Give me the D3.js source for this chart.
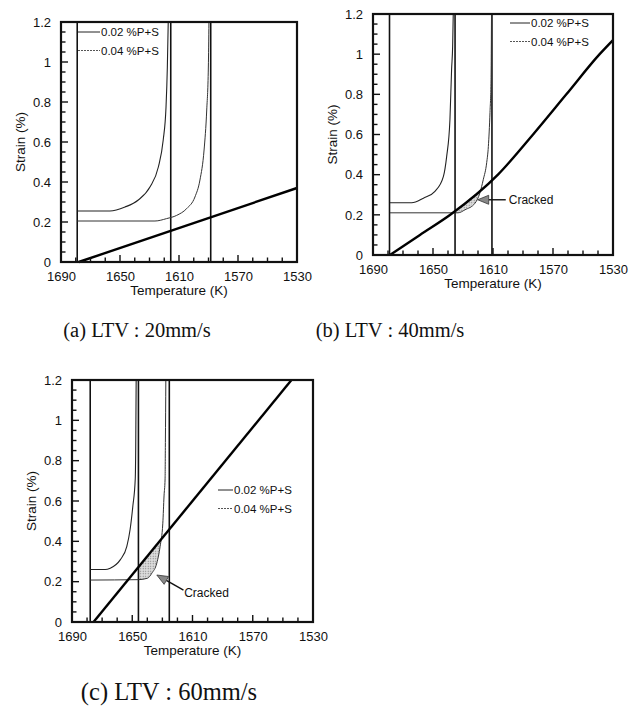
<!doctype html>
<html lang="en">
<head>
<meta charset="utf-8">
<title>Strain vs Temperature, LTV 20/40/60 mm/s</title>
<style>
  body { margin: 0; background: #fff; }
  svg { display: block; }
</style>
</head>
<body>
<div id="chart"></div>
<script src="https://cdn.jsdelivr.net/npm/d3@7"></script>
<script>
// tick labels + legend / captions
var xTicks = [1690, 1650, 1610, 1570, 1530];
var yTicks = [0, 0.2, 0.4, 0.6, 0.8, 1, 1.2];
var seriesNames = ["0.02 %P+S", "0.04 %P+S"];
var captions = ["(a) LTV : 20mm/s", "(b) LTV : 40mm/s", "(c) LTV : 60mm/s"];

// all series are [temperature (K), strain (%)]
// (a) LTV 20 mm/s
var aLines = [1679, 1615.6, 1588.5];
var aStrain = [[1678, 0], [1530, 0.37]];
var a002 = [[1679, 0.255], [1656.8, 0.255], [1646.6, 0.275], [1637.6, 0.31], [1629.7, 0.375],
            [1624, 0.475], [1620.7, 0.61], [1618.8, 0.775], [1617.9, 0.975], [1617.3, 1.2]];
var a004 = [[1679, 0.205], [1626.3, 0.205], [1618.4, 0.217], [1611.6, 0.233], [1604.8, 0.267],
            [1599.2, 0.325], [1595.8, 0.41], [1593, 0.56], [1591.2, 0.76], [1590.1, 0.975], [1589.7, 1.2]];

// (b) LTV 40 mm/s
var bLines = [1679, 1635.3, 1610.7];
var bStrain = [[1678.7, 0], [1658.7, 0.1], [1638.5, 0.2], [1606.7, 0.4], [1583.3, 0.6],
               [1561.1, 0.8], [1538.9, 1.0], [1530, 1.07]];
var b002 = [[1678.7, 0.26], [1664.2, 0.26], [1656.4, 0.283], [1648.7, 0.317], [1643.1, 0.39],
            [1640.9, 0.49], [1638.7, 0.675], [1637.6, 0.925], [1636.9, 1.04], [1636.5, 1.2]];
var b004 = [[1678.7, 0.21], [1633.3, 0.21], [1628.7, 0.225], [1622, 0.258], [1618.7, 0.31],
            [1616.5, 0.375], [1614.2, 0.46], [1613.1, 0.54], [1612, 0.71], [1611.3, 0.875], [1611, 1.2]];
var bCrack = [1635.3, 1616];
var bNote = [[1620.2, 0.275], [1601.5, 0.275], [1599.5, 0.275]]; // arrow tip, arrow tail, label

// (c) LTV 60 mm/s
var cLines = [1677.9, 1645.9, 1625.4];
var cStrain = [[1675.7, 0], [1544.3, 1.2]];
var c002 = [[1677.9, 0.26], [1668, 0.26], [1664.6, 0.267], [1658, 0.308], [1653.6, 0.375],
            [1651.4, 0.46], [1649.6, 0.575], [1648, 0.71], [1647.7, 0.86], [1647.4, 1.2]];
var c004 = [[1677.9, 0.208], [1645.9, 0.21], [1639.9, 0.217], [1637, 0.242], [1633.7, 0.292],
            [1631.5, 0.375], [1629.7, 0.49], [1628.9, 0.625], [1628.2, 0.71], [1628, 0.89], [1627.7, 1.2]];
var cCrack = [1645.9, 1629];
var cNote = [[1633.7, 0.233], [1616, 0.158], [1615.5, 0.143]];

var sans = "'Liberation Sans', Arial, sans-serif";
var serif = "'Liberation Serif', 'Times New Roman', serif";

var svg = d3.select("#chart").append("svg")
    .attr("width", 642)
    .attr("height", 717);

var dots = svg.append("defs").append("pattern")
    .attr("id", "dots")
    .attr("width", 2.5).attr("height", 2.5)
    .attr("patternUnits", "userSpaceOnUse");
dots.append("rect").attr("width", 2.5).attr("height", 2.5).attr("fill", "#ddd");
dots.append("circle").attr("cx", 1.2).attr("cy", 1.2).attr("r", 0.6).attr("fill", "#777");

var panels = [
  {left: 61, top: 22, w: 236, h: 240, lines: aLines, strain: aStrain, s002: a002, s004: a004,
   legend: {x: 17, y: 10, len: 22}, cap: {x: 137, y: 337, size: 20.5, text: captions[0]}},
  {left: 373, top: 14, w: 240, h: 241, lines: bLines, strain: bStrain, s002: b002, s004: b004,
   crack: bCrack, note: bNote,
   legend: {x: 137, y: 9, len: 20}, cap: {x: 390, y: 337, size: 20.5, text: captions[1]}},
  {left: 72, top: 380, w: 241, h: 242, lines: cLines, strain: cStrain, s002: c002, s004: c004,
   crack: cCrack, note: cNote,
   legend: {x: 146, y: 110, len: 15}, cap: {x: 169, y: 700, size: 24.5, text: captions[2]}}
];

// linear lookup of strain at temperature t (series sorted by falling T)
function at(series, t) {
  for (var i = 0; i < series.length - 1; i++) {
    var a = series[i], b = series[i + 1];
    if (t <= a[0] && t >= b[0]) return a[1] + (b[1] - a[1]) * (a[0] - t) / (a[0] - b[0]);
  }
  return NaN;
}

function styleAxis(sel) {
  sel.attr("font-family", sans).attr("font-size", 13);
  sel.select(".domain").remove();
  sel.selectAll("text").attr("fill", "#111");
}

panels.forEach(function(p) {
  var x = d3.scaleLinear().domain([1690, 1530]).range([0, p.w]);
  var y = d3.scaleLinear().domain([0, 1.2]).range([p.h, 0]);
  var line = d3.line()
      .x(function(d){ return x(d[0]); })
      .y(function(d){ return y(d[1]); })
      .curve(d3.curveMonotoneX);

  var g = svg.append("g").attr("transform", "translate(" + p.left + "," + p.top + ")");

  // inward ticks, drawn last-but-frame further down
  var xMinor = d3.range(1690, 1529, -10);
  var yMinor = d3.range(0, 1.2001, 0.05);

  // tick labels
  g.append("g").attr("transform", "translate(0," + p.h + ")")
    .call(d3.axisBottom(x).tickValues(xTicks).tickSize(0).tickPadding(10).tickFormat(d3.format("d")))
    .call(styleAxis);
  g.append("g")
    .call(d3.axisLeft(y).tickValues(yTicks).tickSize(0).tickPadding(10).tickFormat(d3.format("~g")))
    .call(styleAxis);

  // cracked zone: strain line above the 0.04 curve
  if (p.crack) {
    var ts = d3.range(p.crack[0], p.crack[1] - 0.01, -0.2);
    g.append("path")
      .datum(ts)
      .attr("d", d3.area()
        .x(function(t){ return x(t); })
        .y0(function(t){ return y(at(p.s004, t)); })
        .y1(function(t){ return y(Math.max(at(p.strain, t), at(p.s004, t))); }))
      .attr("fill", "url(#dots)")
      .attr("stroke", "none");
  }

  // vertical temperature lines
  g.selectAll(".vline")
    .data(p.lines)
    .join("line")
    .attr("class", "vline")
    .attr("x1", function(d){ return x(d); })
    .attr("x2", function(d){ return x(d); })
    .attr("y1", y(0))
    .attr("y2", y(1.2))
    .attr("stroke", "#111")
    .attr("stroke-width", 1.6);

  // strain curves
  g.append("path").datum(p.s002).attr("d", line)
    .attr("fill", "none").attr("stroke", "#222").attr("stroke-width", 1.1);
  g.append("path").datum(p.s004).attr("d", line)
    .attr("fill", "none").attr("stroke", "#333").attr("stroke-width", 1);

  // applied strain
  g.append("path").datum(p.strain).attr("d", line)
    .attr("fill", "none").attr("stroke", "#000").attr("stroke-width", 2.4);

  // tick marks
  g.selectAll(".xt")
    .data(xMinor)
    .join("line")
    .attr("class", "xt")
    .attr("x1", function(d){ return x(d); })
    .attr("x2", function(d){ return x(d); })
    .attr("y1", p.h)
    .attr("y2", function(d){ return p.h - (xTicks.indexOf(d) >= 0 ? 7 : 4.5); })
    .attr("stroke", "#111").attr("stroke-width", 1.4);
  g.selectAll(".yt")
    .data(yMinor)
    .join("line")
    .attr("class", "yt")
    .attr("x1", 0)
    .attr("x2", function(d, i){ return i % 4 === 0 ? 7 : 4.5; })
    .attr("y1", function(d){ return y(d); })
    .attr("y2", function(d){ return y(d); })
    .attr("stroke", "#111").attr("stroke-width", 1.4);

  // frame
  g.append("rect")
    .attr("width", p.w).attr("height", p.h)
    .attr("fill", "none").attr("stroke", "#111").attr("stroke-width", 2.2);

  // legend
  var lg = g.append("g").attr("transform", "translate(" + p.legend.x + "," + p.legend.y + ")");
  seriesNames.forEach(function(name, i) {
    lg.append("line")
      .attr("x1", 0).attr("x2", p.legend.len)
      .attr("y1", i * 18.5).attr("y2", i * 18.5)
      .attr("stroke", i === 0 ? "#222" : "#555")
      .attr("stroke-width", 1)
      .attr("stroke-dasharray", i === 0 ? null : "2,1");
    lg.append("text")
      .attr("x", p.legend.len + 1).attr("y", i * 18.5)
      .attr("dy", "0.35em")
      .attr("font-family", sans).attr("font-size", 11.5)
      .attr("fill", "#111")
      .text(name);
  });

  // "Cracked" arrow
  if (p.note) {
    var tip = [x(p.note[0][0]), y(p.note[0][1])];
    var tail = [x(p.note[1][0]), y(p.note[1][1])];
    var dx = tail[0] - tip[0], dy = tail[1] - tip[1];
    var len = Math.hypot(dx, dy), ux = dx / len, uy = dy / len;
    var bx = tip[0] + ux * 11, by = tip[1] + uy * 11;
    g.append("line")
      .attr("x1", bx).attr("y1", by).attr("x2", tail[0]).attr("y2", tail[1])
      .attr("stroke", "#111").attr("stroke-width", 1.4);
    g.append("path")
      .attr("d", "M" + tip[0] + "," + tip[1] +
                 "L" + (bx - uy * 4.5) + "," + (by + ux * 4.5) +
                 "L" + (bx + uy * 4.5) + "," + (by - ux * 4.5) + "Z")
      .attr("fill", "#888").attr("stroke", "#333").attr("stroke-width", 0.8);
    g.append("text")
      .attr("x", x(p.note[2][0])).attr("y", y(p.note[2][1]))
      .attr("dy", "0.35em")
      .attr("font-family", sans).attr("font-size", 12)
      .attr("fill", "#111")
      .text("Cracked");
  }

  // axis titles
  g.append("text")
    .attr("x", p.w / 2).attr("y", p.h + 33)
    .attr("text-anchor", "middle")
    .attr("font-family", sans).attr("font-size", 13.5).attr("fill", "#111")
    .text("Temperature (K)");
  g.append("text")
    .attr("transform", "translate(-41," + (p.h / 2) + ") rotate(-90)")
    .attr("text-anchor", "middle")
    .attr("dy", "0.35em")
    .attr("font-family", sans).attr("font-size", 13.5).attr("fill", "#111")
    .text("Strain (%)");

  // caption
  svg.append("text")
    .attr("x", p.cap.x).attr("y", p.cap.y)
    .attr("text-anchor", "middle")
    .attr("font-family", serif).attr("font-size", p.cap.size).attr("fill", "#111")
    .text(p.cap.text);
});
</script>
</body>
</html>
